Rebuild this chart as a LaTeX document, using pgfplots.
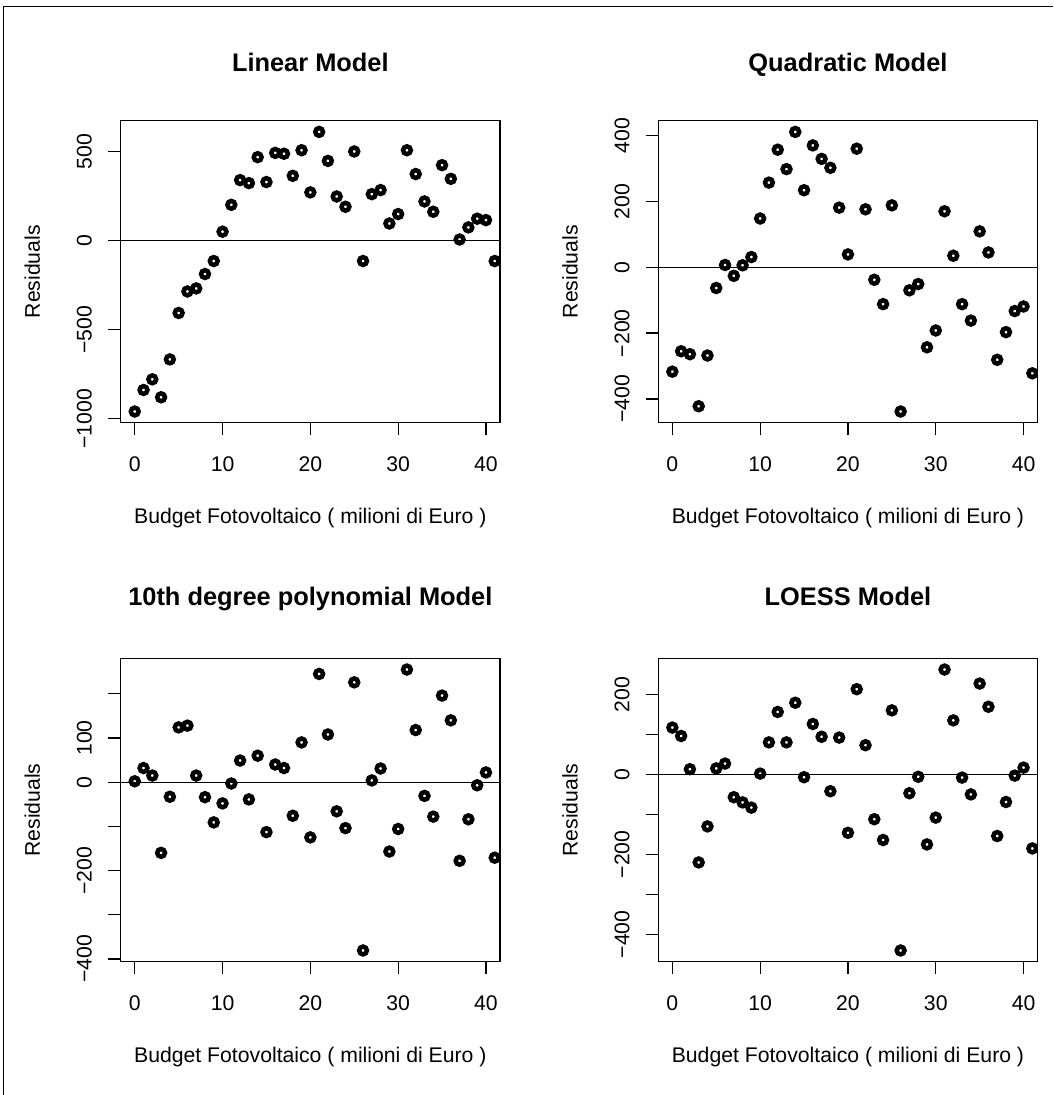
\documentclass[border=0pt]{standalone}
\usepackage{fontspec}
\setmainfont{Liberation Sans}
\usepackage{pgfplots}
\usepackage{pgfplotstable}
\pgfplotsset{compat=1.18}

\pgfplotstableread{
x lin quad poly loess
0 -960 -317 2 117
1 -839 -255 32 96
2 -779 -264 15 13
3 -880 -422 -160 -220
4 -667 -268 -33 -130
5 -406 -63 124 15
6 -285 7 128 27
7 -268 -26 15 -57
8 -187 6 -34 -70
9 -114 31 -91 -83
10 51 148 -48 2
11 202 257 -3 80
12 341 357 49 156
13 324 298 -39 80
14 470 411 60 179
15 330 234 -113 -7
16 494 370 40 126
17 489 329 32 94
18 365 302 -76 -42
19 509 181 90 92
20 272 39 -125 -146
21 612 360 245 213
22 449 176 108 73
23 249 -38 -66 -112
24 191 -112 -104 -164
25 502 188 226 160
26 -114 -438 -381 -440
27 262 -70 4 -47
28 285 -51 31 -6
29 97 -243 -157 -175
30 150 -192 -106 -108
31 509 170 255 262
32 375 35 118 135
33 221 -112 -31 -8
34 163 -162 -78 -50
35 425 109 196 227
36 348 45 140 169
37 7 -281 -178 -154
38 75 -197 -84 -69
39 124 -133 -7 -3
40 116 -119 22 17
41 -114 -322 -171 -185
42 49 -136 26 3
}\resid

\newcommand{\rfont}{\fontsize{21.2pt}{25pt}\selectfont}
\pgfplotsset{
  rpanel/.style={
    scale only axis,
    width=379.3pt, height=302pt,
    anchor=south west,
    xmin=-1.6, xmax=41.6,
    axis line style={line width=1.3pt},
    tick align=outside,
    major tick length=12.7pt,
    every tick/.style={black, line width=1.3pt},
    xtick pos=bottom, ytick pos=left,
    xtick={0,10,20,30,40},
    xticklabels={0,10,20,30,40},
    tick label style={font=\rfont, inner sep=0pt},
    xticklabel style={anchor=base, yshift=-36.3pt},
    yticklabel style={anchor=base, rotate=90, yshift=16.3pt},
    label style={font=\rfont, inner sep=0pt},
    xlabel={Budget Fotovoltaico ( milioni di Euro )},
    ylabel={Residuals},
    xlabel style={at={(0.5,-0.333)}, anchor=base},
    ylabel style={at={(-0.2128,0.5)}, anchor=base},
    title style={font=\bfseries\fontsize{25.4pt}{30pt}\selectfont, inner sep=0pt, at={(0.5,1.1437)}, anchor=base},
    clip marker paths=true,
  },
  pts/.style={only marks, mark=o, mark size=3.9pt, black, mark options={line width=4.5pt}},
  zero/.style={black, line width=1.3pt, forget plot},
}

\begin{document}
\begin{tikzpicture}
\useasboundingbox (0pt,0pt) rectangle (1053pt,-1095pt);
\draw[line width=1.3pt] (3.3pt,-1095pt) -- (3.3pt,-6.7pt) -- (1053pt,-6.7pt);

% top left
\begin{axis}[rpanel, at={(120.7pt,-422.7pt)},
  title={Linear Model},
  ymin=-1022.9, ymax=674.9,
  ytick={-1000,-500,0,500},
  yticklabels={−1000,−500,0,500}]
\addplot[zero] coordinates {(-2,0) (43,0)};
\addplot[pts] table[x=x, y=lin] {\resid};
\end{axis}

% top right
\begin{axis}[rpanel, at={(658.3pt,-422.7pt)},
  title={Quadratic Model},
  ymin=-472, ymax=445,
  ytick={-400,-200,0,200,400},
  yticklabels={−400,−200,0,200,400}]
\addplot[zero] coordinates {(-2,0) (43,0)};
\addplot[pts] table[x=x, y=quad] {\resid};
\end{axis}

% bottom left
\begin{axis}[rpanel, at={(120.7pt,-961.7pt)}, height=303.4pt,
  title={10th degree polynomial Model},
  title style={at={(0.5,1.1536)}},
  ymin=-406.4, ymax=280.4,
  ytick={-400,-300,-200,-100,0,100,200},
  yticklabels={−400,,−200,,0,100,}]
\addplot[zero] coordinates {(-2,0) (43,0)};
\addplot[pts] table[x=x, y=poly] {\resid};
\end{axis}

% bottom right
\begin{axis}[rpanel, at={(658.3pt,-961.7pt)}, height=303.4pt,
  title={LOESS Model},
  title style={at={(0.5,1.1536)}},
  ymin=-468.1, ymax=290.1,
  ytick={-400,-300,-200,-100,0,100,200},
  yticklabels={−400,,−200,,0,,200}]
\addplot[zero] coordinates {(-2,0) (43,0)};
\addplot[pts] table[x=x, y=loess] {\resid};
\end{axis}
\end{tikzpicture}
\end{document}
